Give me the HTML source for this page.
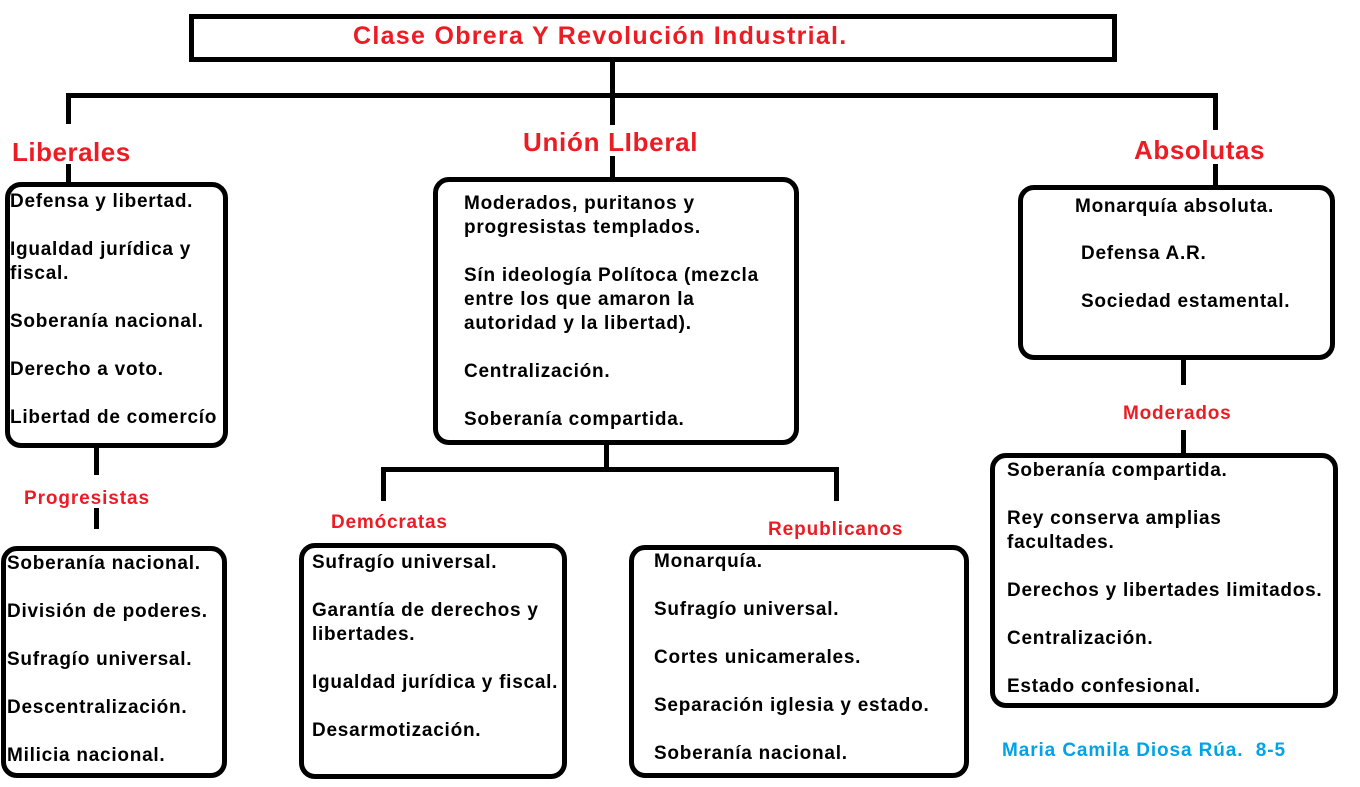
<!DOCTYPE html>
<html><head><meta charset="utf-8"><style>
body{margin:0;width:1360px;height:787px;background:#fff;position:relative;overflow:hidden;font-family:"Liberation Sans",Arial,sans-serif;}
.b{position:absolute;border:5px solid #000;border-radius:16px;box-sizing:border-box;}
.l{position:absolute;background:#000;}
.t{position:absolute;font-weight:bold;font-size:19px;letter-spacing:0.75px;color:#000;line-height:24px;white-space:nowrap;}
.r{position:absolute;font-weight:bold;color:#ed1c24;white-space:nowrap;}
</style></head><body>
<div class="b" style="left:189px;top:14px;width:928px;height:48px;border-radius:0;"></div>
<div class="r" style="left:353px;top:22px;font-size:25px;letter-spacing:1.3px;">Clase Obrera Y Revolución Industrial.</div>
<div class="l" style="left:610px;top:60px;width:5px;height:38px"></div>
<div class="l" style="left:66px;top:93px;width:1152px;height:5px"></div>
<div class="l" style="left:66px;top:93px;width:5px;height:31px"></div>
<div class="l" style="left:610px;top:93px;width:5px;height:32px"></div>
<div class="l" style="left:1213px;top:93px;width:5px;height:37px"></div>
<div class="l" style="left:66px;top:164px;width:5px;height:20px"></div>
<div class="l" style="left:610px;top:156px;width:5px;height:23px"></div>
<div class="l" style="left:1213px;top:164px;width:5px;height:23px"></div>

<div class="r" style="left:12px;top:137px;font-size:26px;letter-spacing:0.5px;">Liberales</div>
<div class="r" style="left:523px;top:127px;font-size:26px;letter-spacing:0.7px;">Unión LIberal</div>
<div class="r" style="left:1134px;top:135px;font-size:26px;letter-spacing:0.6px;">Absolutas</div>

<div class="b" style="left:5px;top:182px;width:223px;height:266px;"></div>
<div class="t" style="left:10px;top:190px;">Defensa y libertad.<br><br>Igualdad jurídica y<br>fiscal.<br><br>Soberanía nacional.<br><br>Derecho a voto.<br><br>Libertad de comercío</div>

<div class="b" style="left:433px;top:177px;width:366px;height:268px;"></div>
<div class="t" style="left:464px;top:192px;">Moderados, puritanos y<br>progresistas templados.<br><br>Sín ideología Polítoca (mezcla<br>entre los que amaron la<br>autoridad y la libertad).<br><br>Centralización.<br><br>Soberanía compartida.</div>

<div class="b" style="left:1018px;top:185px;width:317px;height:175px;"></div>
<div class="t" style="left:1075px;top:195px;">Monarquía absoluta.</div>
<div class="t" style="left:1081px;top:242px;">Defensa A.R.<br><br>Sociedad estamental.</div>

<div class="l" style="left:94px;top:446px;width:5px;height:29px"></div>
<div class="l" style="left:94px;top:508px;width:5px;height:21px"></div>
<div class="r" style="left:24px;top:488px;font-size:19px;letter-spacing:0.9px;">Progresistas</div>

<div class="l" style="left:604px;top:443px;width:5px;height:27px"></div>
<div class="l" style="left:381px;top:467px;width:458px;height:5px"></div>
<div class="l" style="left:381px;top:467px;width:5px;height:34px"></div>
<div class="l" style="left:834px;top:467px;width:5px;height:34px"></div>
<div class="r" style="left:331px;top:512px;font-size:19px;letter-spacing:0.8px;">Demócratas</div>
<div class="r" style="left:768px;top:519px;font-size:19px;letter-spacing:0.9px;">Republicanos</div>

<div class="l" style="left:1181px;top:358px;width:5px;height:27px"></div>
<div class="l" style="left:1181px;top:430px;width:5px;height:26px"></div>
<div class="r" style="left:1123px;top:403px;font-size:19px;letter-spacing:0.8px;">Moderados</div>

<div class="b" style="left:1px;top:546px;width:226px;height:232px;"></div>
<div class="t" style="left:7px;top:552px;">Soberanía nacional.<br><br>División de poderes.<br><br>Sufragío universal.<br><br>Descentralización.<br><br>Milicia nacional.</div>

<div class="b" style="left:299px;top:543px;width:268px;height:236px;"></div>
<div class="t" style="left:312px;top:551px;">Sufragío universal.<br><br>Garantía de derechos y<br>libertades.<br><br>Igualdad jurídica y fiscal.<br><br>Desarmotización.</div>

<div class="b" style="left:629px;top:545px;width:340px;height:233px;"></div>
<div class="t" style="left:654px;top:550px;">Monarquía.<br><br>Sufragío universal.<br><br>Cortes unicamerales.<br><br>Separación iglesia y estado.<br><br>Soberanía nacional.</div>

<div class="b" style="left:990px;top:453px;width:348px;height:255px;"></div>
<div class="t" style="left:1007px;top:459px;">Soberanía compartida.<br><br>Rey conserva amplias<br>facultades.<br><br>Derechos y libertades limitados.<br><br>Centralización.<br><br>Estado confesional.</div>

<div style="position:absolute;left:1002px;top:740px;font-weight:bold;font-size:19px;letter-spacing:0.9px;color:#00a2e8;white-space:nowrap;">Maria Camila Diosa Rúa.&nbsp; 8-5</div>
</body></html>
